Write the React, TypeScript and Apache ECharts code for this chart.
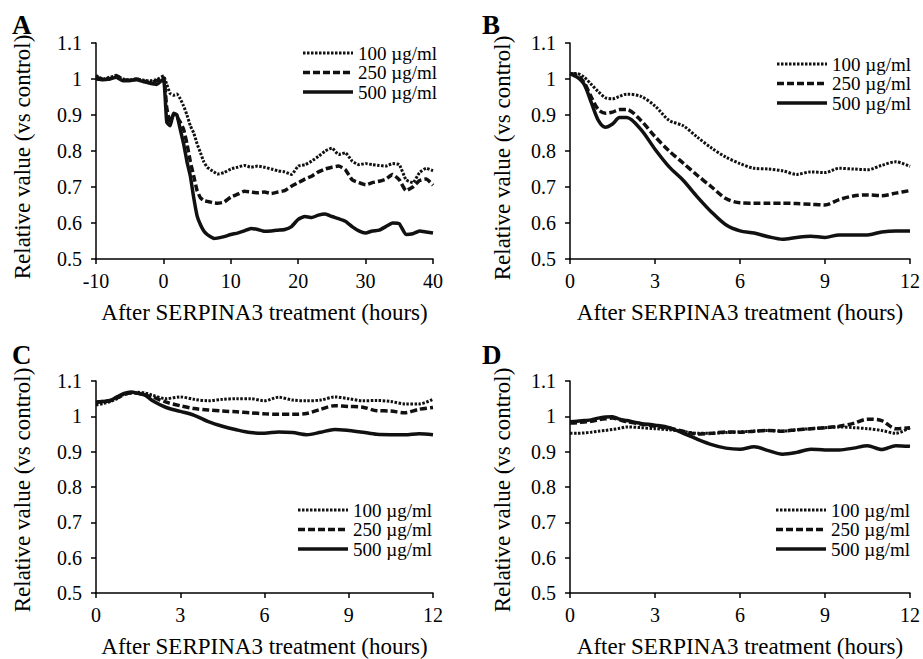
import React, { useEffect, useRef } from "react";
import * as echarts from "echarts";

const seriesNames = ["100 µg/ml", "250 µg/ml", "500 µg/ml"];
const panelLetters = ["A", "B", "C", "D"];
const xTitle = "After SERPINA3 treatment (hours)";
const yTitle = "Relative value (vs control)";

// Panel A (hours from -10 to 40)
const hoursA = [
  -10, -9, -8, -7, -6, -5, -4, -3, -2, -1, 0,
  0.5, 1, 1.5, 2, 2.5, 3, 3.5, 4, 4.5, 5, 5.5, 6, 6.5, 7, 7.5, 8,
  9, 10, 11, 12, 13, 14, 15, 16, 17, 18, 19, 20, 21, 22, 23, 24, 25, 26, 27, 28, 29, 30,
  31, 32, 33, 34, 35, 36, 37, 38, 39, 40,
];
const a100 = [
  1.01, 1.0, 1.005, 1.008, 1.0, 0.998, 1.0, 0.997, 0.995, 0.998, 1.008,
  0.985, 0.96, 0.955, 0.958, 0.945, 0.925, 0.9, 0.87, 0.85, 0.82, 0.795, 0.77, 0.755, 0.748, 0.742, 0.736,
  0.74, 0.75, 0.755, 0.76, 0.755, 0.758, 0.755, 0.75, 0.745, 0.742, 0.735, 0.758, 0.762, 0.772, 0.785, 0.8, 0.808, 0.79, 0.795, 0.772, 0.762, 0.765,
  0.762, 0.76, 0.758, 0.765, 0.762, 0.72, 0.712, 0.74, 0.752, 0.745,
];
const a250 = [
  1.005, 1.0, 1.0, 1.01, 0.998, 0.996, 1.0, 0.995, 0.99, 0.995, 1.005,
  0.92, 0.88, 0.9, 0.895, 0.88, 0.86, 0.82, 0.77, 0.73, 0.69, 0.67, 0.662, 0.66, 0.658, 0.656, 0.655,
  0.658, 0.672, 0.68, 0.688, 0.686, 0.684, 0.686, 0.682, 0.686, 0.69, 0.702, 0.712, 0.722, 0.73, 0.742, 0.75, 0.755, 0.758, 0.748, 0.72, 0.712, 0.706,
  0.712, 0.716, 0.722, 0.735, 0.72, 0.69, 0.7, 0.718, 0.722, 0.705,
];
const a500 = [
  1.0, 0.998, 1.0, 1.005, 0.995, 0.996, 0.998, 0.993, 0.988, 0.985, 1.0,
  0.88, 0.87, 0.905, 0.9, 0.86, 0.82, 0.77, 0.73, 0.67, 0.62, 0.595, 0.578, 0.568, 0.562, 0.557, 0.558,
  0.562, 0.568, 0.572, 0.578, 0.585, 0.582, 0.577, 0.578, 0.58, 0.582, 0.59, 0.61, 0.618, 0.615, 0.622, 0.625, 0.618, 0.612, 0.605, 0.59, 0.578, 0.572,
  0.578, 0.58, 0.59, 0.6, 0.598, 0.568, 0.57, 0.578, 0.575, 0.572,
];

// Panels B, C, D (hours from 0 to 12)
const hours12 = [
  0, 0.25, 0.5, 0.75, 1, 1.25, 1.5, 1.75, 2, 2.5, 3, 3.5, 4, 4.5, 5, 5.5, 6, 6.5, 7, 7.5, 8, 8.5, 9, 9.5, 10, 10.5, 11, 11.5, 12,
];
const b100 = [
  1.015, 1.015, 1.005, 0.985, 0.965, 0.948, 0.945, 0.952, 0.958, 0.952, 0.925, 0.885, 0.87, 0.838, 0.808, 0.783, 0.765, 0.752, 0.75, 0.745, 0.735, 0.742, 0.74, 0.752, 0.75, 0.748, 0.76, 0.77, 0.757,
];
const b250 = [
  1.015, 1.01, 0.99, 0.95, 0.915, 0.905, 0.908, 0.915, 0.915, 0.885, 0.84, 0.8, 0.766, 0.732, 0.7, 0.668, 0.656, 0.655, 0.655, 0.655, 0.654, 0.652, 0.65, 0.665, 0.675, 0.678, 0.676, 0.683, 0.69,
];
const b500 = [
  1.015, 1.005, 0.985, 0.935, 0.885, 0.866, 0.875, 0.893, 0.893, 0.86, 0.805, 0.756, 0.718, 0.672, 0.63, 0.595, 0.578, 0.572, 0.562, 0.555, 0.56, 0.563, 0.56, 0.567, 0.567, 0.567, 0.575, 0.578, 0.578,
];
const c100 = [
  1.032, 1.036, 1.042, 1.05, 1.062, 1.066, 1.068, 1.066, 1.06, 1.05, 1.055, 1.048, 1.044, 1.048, 1.05, 1.05, 1.044, 1.054, 1.046, 1.044, 1.046, 1.055, 1.05, 1.044, 1.045, 1.042, 1.035, 1.035, 1.048,
];
const c250 = [
  1.04, 1.042, 1.045, 1.052, 1.062, 1.066, 1.065, 1.06, 1.055, 1.04, 1.03, 1.022, 1.018, 1.015, 1.013, 1.01, 1.007, 1.006, 1.006, 1.008, 1.02, 1.03, 1.028, 1.026, 1.016, 1.015, 1.01, 1.02, 1.025,
];
const c500 = [
  1.04, 1.042, 1.044, 1.055, 1.065, 1.069, 1.065, 1.06, 1.045, 1.025, 1.014, 1.003, 0.985, 0.972, 0.962, 0.954, 0.952, 0.956, 0.954, 0.948, 0.955, 0.963, 0.96, 0.955, 0.949, 0.948, 0.948, 0.951, 0.948,
];
const d100 = [
  0.952, 0.952, 0.953, 0.955, 0.958, 0.96, 0.963, 0.966, 0.97, 0.968, 0.965, 0.962, 0.957, 0.952, 0.952, 0.954, 0.956, 0.958, 0.96, 0.958, 0.962, 0.965, 0.968, 0.97, 0.968, 0.965, 0.96, 0.952, 0.968,
];
const d250 = [
  0.981, 0.982, 0.984, 0.986, 0.99, 0.993, 0.995, 0.99, 0.985, 0.978, 0.972, 0.966, 0.958, 0.95, 0.952, 0.956, 0.955, 0.958, 0.96, 0.958, 0.962, 0.965, 0.968, 0.972, 0.98, 0.992, 0.988, 0.965, 0.968,
];
const d500 = [
  0.985, 0.986, 0.988, 0.99, 0.995, 0.998, 0.999, 0.992, 0.988, 0.98, 0.975, 0.968, 0.952, 0.935, 0.92, 0.91, 0.907, 0.914, 0.903, 0.893, 0.898, 0.907, 0.905, 0.905, 0.91, 0.917, 0.906, 0.917, 0.915,
];

const FONT = "'Liberation Serif', 'Times New Roman', serif";

export default function App() {
  const ref = useRef<HTMLDivElement>(null);
  useEffect(() => {
    if (!ref.current) return;
    const chart = echarts.init(ref.current, null, { renderer: "svg" });

    const grids = [
      { left: 96, top: 43, width: 337, height: 216 },
      { left: 570, top: 43, width: 341, height: 216 },
      { left: 96, top: 381, width: 337, height: 216 },
      { left: 570, top: 381, width: 341, height: 216 },
    ];
    const xRanges = [
      { min: -10, max: 40, interval: 10 },
      { min: 0, max: 12, interval: 3 },
      { min: 0, max: 12, interval: 3 },
      { min: 0, max: 12, interval: 3 },
    ];
    const yTitlePos = [
      { x: 22, y: 157 },
      { x: 502, y: 158 },
      { x: 22, y: 490 },
      { x: 502, y: 490 },
    ];
    const panelData = [
      { x: hoursA, ys: [a100, a250, a500], smooth: 0.15 },
      { x: hours12, ys: [b100, b250, b500], smooth: 0.3 },
      { x: hours12, ys: [c100, c250, c500], smooth: 0.3 },
      { x: hours12, ys: [d100, d250, d500], smooth: 0.3 },
    ];
    const styles = [
      { dash: [2.5, 1.5], width: 3 },
      { dash: [7, 3], width: 3.5 },
      { dash: null as number[] | null, width: 3.5 },
    ];
    const legendPos = [
      { x: 303, y: 53 },
      { x: 777, y: 64 },
      { x: 298, y: 510 },
      { x: 776, y: 510 },
    ];
    const letterPos = [
      { x: 12, y: 11 },
      { x: 482, y: 11 },
      { x: 12, y: 341 },
      { x: 482, y: 341 },
    ];

    const axisCommon = {
      axisLine: { show: true, onZero: false, lineStyle: { color: "#000", width: 1.5 } },
      axisTick: { show: true, inside: false, length: 5, lineStyle: { color: "#000", width: 1.5 } },
      splitLine: { show: false },
    };

    const series: any[] = [];
    panelData.forEach((p, gi) => {
      p.ys.forEach((vals, si) => {
        series.push({
          type: "line",
          name: seriesNames[si],
          xAxisIndex: gi,
          yAxisIndex: gi,
          data: p.x.map((h, i) => [h, vals[i]]),
          symbol: "none",
          showSymbol: false,
          smooth: p.smooth,
          lineStyle: {
            color: "#111",
            width: styles[si].width,
            type: (styles[si].dash || "solid") as any,
          },
          z: 3 - si,
        });
      });
    });

    const graphics: any[] = [];
    panelLetters.forEach((t, i) => {
      graphics.push({
        type: "text",
        x: letterPos[i].x,
        y: letterPos[i].y,
        style: { text: t, font: `bold 27px ${FONT}`, fill: "#000" },
      });
      graphics.push({
        type: "text",
        x: yTitlePos[i].x,
        y: yTitlePos[i].y,
        rotation: Math.PI / 2,
        style: {
          text: yTitle,
          font: `23px ${FONT}`,
          fill: "#000",
          align: "center",
          verticalAlign: "middle",
        },
      });
    });
    legendPos.forEach((lp) => {
      seriesNames.forEach((name, si) => {
        const y = lp.y + si * 19.5;
        graphics.push({
          type: "line",
          shape: { x1: lp.x, y1: y, x2: lp.x + 50, y2: y },
          style: {
            stroke: "#111",
            lineWidth: styles[si].width,
            lineDash: styles[si].dash || undefined,
          },
        });
        graphics.push({
          type: "text",
          x: lp.x + 55,
          y,
          style: {
            text: name,
            font: `19px ${FONT}`,
            fill: "#000",
            verticalAlign: "middle",
            align: "left",
          },
        });
      });
    });

    chart.setOption({
      animation: false,
      backgroundColor: "#fff",
      textStyle: { fontFamily: FONT, color: "#000" },
      grid: grids.map((g) => ({ ...g, containLabel: false })),
      xAxis: grids.map((_, i) => ({
        type: "value",
        gridIndex: i,
        ...xRanges[i],
        ...axisCommon,
        axisLabel: { color: "#000", fontFamily: FONT, fontSize: 20, margin: 12 },
        name: xTitle,
        nameLocation: "middle",
        nameGap: 42,
        nameTextStyle: { color: "#000", fontFamily: FONT, fontSize: 23 },
      })),
      yAxis: grids.map((_, i) => ({
        type: "value",
        gridIndex: i,
        min: 0.5,
        max: 1.1,
        interval: 0.1,
        ...axisCommon,
        axisLabel: {
          color: "#000",
          fontFamily: FONT,
          fontSize: 20,
          margin: 14,
          formatter: (v: number) => String(Math.round(v * 10) / 10),
        },
      })),
      graphic: graphics,
      series,
    });

    return () => chart.dispose();
  }, []);
  return (
    <div
      ref={ref}
      style={{ position: "absolute", left: 0, top: 0, width: 923, height: 659, background: "#fff" }}
    />
  );
}
